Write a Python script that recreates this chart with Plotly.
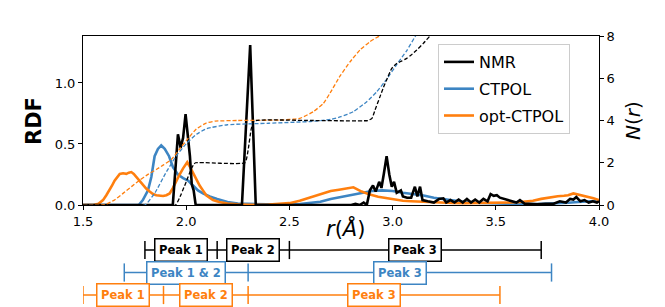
import plotly.graph_objects as go

# ---------------- data ----------------
# RDF curves (r in Angstrom, g(r))
r_nmr = [1.50, 1.935, 1.948, 1.960, 1.973, 1.985, 1.997, 2.008, 2.018, 2.027, 2.036, 2.046,
         2.270, 2.310, 2.337, 2.800, 2.820, 2.840, 2.860, 2.875, 2.890, 2.905, 2.918, 2.935,
         2.946, 2.958, 2.971, 2.984, 2.996, 3.007, 3.020, 3.040, 3.050, 3.070, 3.090, 3.108,
         3.120, 3.133, 3.145, 3.170, 3.200, 3.225, 3.246, 3.260, 3.280, 3.300, 3.320, 3.340,
         3.360, 3.380, 3.400, 3.420, 3.440, 3.460, 3.475, 3.490, 3.505, 3.520, 3.540, 3.560,
         3.580, 3.600, 3.617, 3.640, 3.660, 3.700, 3.740, 3.780, 3.810, 3.840, 3.860, 3.876,
         3.890, 3.910, 3.930, 3.950, 3.970, 3.990, 4.000]
g_nmr = [0, 0, 0.30, 0.58, 0.47, 0.55, 0.745, 0.55, 0.40, 0.17, 0.12, 0,
         0, 1.31, 0, 0, 0.01, 0, 0.02, 0, 0.12, 0.16, 0.11, 0.19,
         0.14, 0.26, 0.40, 0.25, 0.15, 0.19, 0.10, 0.12, 0.07, 0.06, 0.06, 0.15,
         0.07, 0.15, 0.04, 0.03, 0.02, 0.05, 0.055, 0.02, 0.04, 0.02, 0.045, 0.02,
         0.05, 0.02, 0.045, 0.02, 0.05, 0.03, 0.09, 0.075, 0.08, 0.06, 0.05, 0.04,
         0.035, 0.02, 0.04, 0.01, 0.01, 0.005, 0.01, 0.01, 0.03, 0.02, 0.05, 0.045,
         0.065, 0.03, 0.04, 0.02, 0.03, 0.02, 0.03]

r_ctpol = [1.5, 1.77, 1.79, 1.815, 1.831, 1.847, 1.863, 1.879, 1.896, 1.917, 1.936, 1.96,
           1.985, 2.009, 2.033, 2.057, 2.081, 2.114, 2.15, 2.20, 2.25, 2.35, 2.45, 2.55,
           2.60, 2.65, 2.70, 2.75, 2.80, 2.85, 2.90, 2.95, 3.00, 3.05, 3.10, 3.15,
           3.20, 3.25, 3.30, 3.35, 3.40, 3.50, 3.60, 3.70, 3.80, 3.85, 3.90, 3.95, 4.0]
g_ctpol = [0, 0, 0.04, 0.12, 0.23, 0.40, 0.46, 0.488, 0.46, 0.40, 0.31, 0.25,
           0.22, 0.20, 0.16, 0.12, 0.095, 0.07, 0.05, 0.025, 0.012, 0.005, 0.003, 0.008,
           0.015, 0.027, 0.05, 0.065, 0.082, 0.10, 0.115, 0.12, 0.115, 0.10, 0.09, 0.078,
           0.06, 0.047, 0.035, 0.025, 0.018, 0.01, 0.008, 0.008, 0.012, 0.018, 0.025, 0.03, 0.035]

r_opt = [1.5, 1.55, 1.575, 1.597, 1.613, 1.629, 1.641, 1.653, 1.665, 1.678, 1.694, 1.71,
         1.722, 1.734, 1.746, 1.758, 1.774, 1.79, 1.806, 1.823, 1.839, 1.855, 1.872, 1.888,
         1.904, 1.92, 1.936, 1.952, 1.968, 1.985, 1.995, 2.005, 2.019, 2.033, 2.049, 2.065,
         2.081, 2.097, 2.113, 2.13, 2.16, 2.20, 2.25, 2.30, 2.40, 2.45, 2.50, 2.55,
         2.60, 2.65, 2.70, 2.74, 2.78, 2.81, 2.85, 2.89, 2.93, 2.97, 3.01, 3.05,
         3.09, 3.13, 3.17, 3.21, 3.25, 3.29, 3.35, 3.40, 3.45, 3.50, 3.57, 3.62,
         3.68, 3.72, 3.76, 3.80, 3.83, 3.85, 3.876, 3.90, 3.924, 3.95, 3.973, 4.0]
g_opt = [0, 0, 0.01, 0.04, 0.08, 0.12, 0.16, 0.20, 0.23, 0.255, 0.26, 0.255,
         0.265, 0.27, 0.255, 0.23, 0.20, 0.16, 0.135, 0.11, 0.09, 0.08, 0.075, 0.074,
         0.08, 0.095, 0.14, 0.20, 0.25, 0.30, 0.33, 0.35, 0.31, 0.26, 0.21, 0.16,
         0.12, 0.08, 0.06, 0.04, 0.025, 0.012, 0.005, 0.002, 0.003, 0.008, 0.015, 0.035,
         0.06, 0.09, 0.115, 0.125, 0.14, 0.145, 0.11, 0.085, 0.068, 0.055, 0.045, 0.035,
         0.031, 0.027, 0.024, 0.02, 0.018, 0.016, 0.015, 0.015, 0.016, 0.018, 0.02, 0.025,
         0.035, 0.05, 0.063, 0.072, 0.076, 0.08, 0.095, 0.085, 0.08, 0.07, 0.055, 0.04]

# Running coordination numbers N(r)
rn_nmr = [1.5, 1.948, 1.975, 2.0, 2.02, 2.035, 2.045, 2.285, 2.300, 2.315, 2.33, 2.60,
          2.88, 2.90, 2.915, 2.939, 2.955, 2.971, 2.996, 3.02, 3.045, 3.068, 3.09, 3.117,
          3.149, 3.181, 3.22]
n_nmr = [0, 0, 0.5, 1.1, 1.6, 1.9, 2.0, 2.0, 2.6, 3.6, 3.98, 4.0,
         4.0, 4.1, 4.5, 5.13, 5.55, 5.92, 6.47, 6.7, 6.82, 6.94, 7.1, 7.34,
         7.65, 8.0, 8.4]

rn_ctpol = [1.5, 1.80, 1.85, 1.90, 1.95, 2.0, 2.05, 2.1, 2.2, 2.4, 2.6, 2.7,
            2.75, 2.81, 2.875, 2.923, 2.971, 3.02, 3.068, 3.109, 3.15]
n_ctpol = [0, 0, 0.6, 1.5, 2.3, 2.9, 3.35, 3.62, 3.8, 3.87, 3.95, 4.05,
           4.18, 4.42, 4.89, 5.36, 5.95, 6.65, 7.3, 7.97, 8.6]

rn_opt = [1.5, 1.60, 1.65, 1.694, 1.735, 1.775, 1.815, 1.855, 1.89, 1.928, 1.968, 2.009,
          2.049, 2.097, 2.14, 2.25, 2.45, 2.551, 2.616, 2.664, 2.697, 2.745, 2.794, 2.842,
          2.89, 2.935, 2.98]
n_opt = [0, 0, 0.22, 0.55, 0.87, 1.18, 1.45, 1.68, 1.9, 2.15, 2.65, 3.15,
         3.6, 3.88, 3.97, 4.0, 4.02, 4.1, 4.42, 4.8, 5.3, 6.1, 6.78, 7.34,
         7.73, 8.0, 8.3]

# Peak ranges (bottom annotation rows)
row_names = ["NMR", "CTPOL", "opt-CTPOL"]
edges_nmr = [1.80, 2.15, 2.50, 3.72]
labels_nmr = ["Peak 1", "Peak 2", "Peak 3"]
edges_ctpol = [1.70, 2.30, 3.77]
labels_ctpol = ["Peak 1 & 2", "Peak 3"]
edges_opt = [1.50, 1.89, 2.30, 3.52]
labels_opt = ["Peak 1", "Peak 2", "Peak 3"]

x_ticks = [1.5, 2.0, 2.5, 3.0, 3.5, 4.0]
x_ticktext = ["1.5", "2.0", "2.5", "3.0", "3.5", "4.0"]
y_ticks = [0.0, 0.5, 1.0]
y_ticktext = ["0.0", "0.5", "1.0"]
y2_ticks = [0, 2, 4, 6, 8]

# ---------------- styling ----------------
FONT = "DejaVu Sans"
C_NMR = "#000000"
C_CT = "#3d85c3"
C_OPT = "#ff7f0e"

fig = go.Figure()

# dashed N(r) curves on the right axis
for rn, n, c in [(rn_ctpol, n_ctpol, C_CT), (rn_opt, n_opt, C_OPT), (rn_nmr, n_nmr, C_NMR)]:
    fig.add_trace(go.Scatter(x=rn, y=n, mode="lines", xaxis="x", yaxis="y2",
                             line=dict(color=c, width=1.3, dash="4px,2px", shape="spline", smoothing=0.4),
                             showlegend=False, hoverinfo="skip"))

# RDF solid curves
solid = [("CTPOL", r_ctpol, g_ctpol, C_CT, 2),
         ("opt-CTPOL", r_opt, g_opt, C_OPT, 3),
         ("NMR", r_nmr, g_nmr, C_NMR, 1)]
for name, r, g, c, rank in solid:
    fig.add_trace(go.Scatter(x=r, y=g, mode="lines", name=name, legendgroup=name,
                             legendrank=rank, xaxis="x", yaxis="y",
                             line=dict(color=c, width=2.6)))

# Peak range rows
rows = [("NMR", edges_nmr, labels_nmr, C_NMR),
        ("CTPOL", edges_ctpol, labels_ctpol, C_CT),
        ("opt-CTPOL", edges_opt, labels_opt, C_OPT)]
for name, edges, labels, c in rows:
    fig.add_trace(go.Scatter(x=edges, y=[name] * len(edges), mode="lines+markers",
                             xaxis="x3", yaxis="y3", showlegend=False, hoverinfo="skip",
                             line=dict(color=c, width=1.5),
                             marker=dict(symbol="line-ns", size=13, color=c,
                                         line=dict(width=1.5, color=c))))
    for i, lab in enumerate(labels):
        mid = (edges[i] + edges[i + 1]) / 2
        fig.add_annotation(x=mid, y=name, xref="x3", yref="y3", text="<b>%s</b>" % lab,
                           showarrow=False, font=dict(family=FONT, size=11.5, color=c),
                           xanchor="center", yanchor="middle",
                           bgcolor="white", bordercolor=c, borderwidth=1.5, borderpad=3.5)

Y0 = 102 / 271.0
tickfont = dict(family=FONT, size=13, color="black")

fig.update_layout(
    width=665, height=307,
    margin=dict(l=83, r=66, t=36, b=0, autoexpand=False),
    paper_bgcolor="white", plot_bgcolor="white",
    font=dict(family=FONT, color="black"),
    showlegend=True,
    legend=dict(x=(438 - 83) / 516.0, y=(307 - 44) / 271.0, xanchor="left", yanchor="top",
                font=dict(family=FONT, size=16, color="black"),
                bgcolor="rgba(255,255,255,0.8)", bordercolor="#cccccc", borderwidth=1,
                traceorder="grouped", tracegroupgap=3),
    xaxis=dict(domain=[0, 1], range=[1.5, 4.0], anchor="y",
               tickvals=x_ticks, ticktext=x_ticktext, ticks="outside", ticklen=4,
               tickcolor="black", showline=True, mirror=True, linecolor="black", linewidth=1,
               showgrid=False, zeroline=False, tickfont=tickfont, automargin=False),
    yaxis=dict(domain=[Y0, 1], range=[0, 1.385], anchor="x",
               tickvals=y_ticks, ticktext=y_ticktext, ticks="outside", ticklen=4,
               tickcolor="black", showline=True, linecolor="black", linewidth=1,
               showgrid=False, zeroline=False, tickfont=tickfont, automargin=False),
    yaxis2=dict(overlaying="y", side="right", anchor="x", range=[0, 8],
                tickvals=y2_ticks, ticks="outside", ticklen=4, tickcolor="black",
                showline=True, linecolor="black", linewidth=1,
                showgrid=False, zeroline=False, tickfont=tickfont, automargin=False),
    xaxis3=dict(domain=[0, 1], range=[1.5, 4.0], anchor="y3", visible=False),
    yaxis3=dict(domain=[0, Y0], range=[-0.533, 4.0], anchor="x3", visible=False,
                type="category", categoryorder="array",
                categoryarray=["opt-CTPOL", "CTPOL", "NMR"]),
)

# axis titles
fig.add_annotation(x=(345 - 83) / 516.0, y=(307 - 228) / 271.0, xref="paper", yref="paper",
                   text="<i>r</i>(<i>Å</i>)", showarrow=False, xanchor="center", yanchor="middle",
                   font=dict(family=FONT, size=21, color="black"))
fig.add_annotation(x=(34 - 83) / 516.0, y=(307 - 121) / 271.0, xref="paper", yref="paper",
                   text="<b>RDF</b>", textangle=-90, showarrow=False,
                   xanchor="center", yanchor="middle",
                   font=dict(family=FONT, size=21, color="black"))
fig.add_annotation(x=(633 - 83) / 516.0, y=(307 - 121) / 271.0, xref="paper", yref="paper",
                   text="<i>N</i>(<i>r</i>)", textangle=-90, showarrow=False,
                   xanchor="center", yanchor="middle",
                   font=dict(family=FONT, size=20, color="black"))

fig.write_html("out.html", config={"displayModeBar": False},
               post_script="document.body.style.margin='0';")
